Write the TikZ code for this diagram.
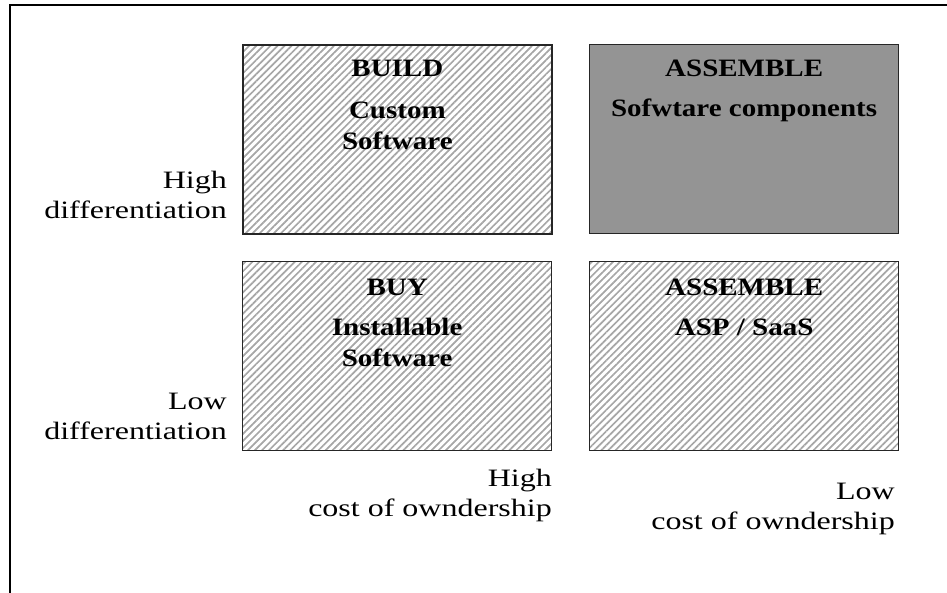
\documentclass[tikz,border=0pt]{standalone}
\usepackage{fontspec}
\setmainfont{Liberation Serif}
\newfontfamily\axisfont{Liberation Serif}[FakeStretch=1.28]
\newfontfamily\headfont{Liberation Serif}[FakeStretch=1.16]
\usetikzlibrary{patterns.meta}

\tikzset{
  quad/.style={draw=black!85, line width=1.3pt, anchor=north west, inner sep=0pt,
    minimum width=309pt, minimum height=189pt},
  hatched/.style={quad, pattern={Lines[angle=45, distance=5pt, line width=1.7pt]},
    pattern color=black!35},
  solid grey/.style={quad, fill=black!42},
  head/.style={font=\headfont\fontsize{25}{31}\selectfont\bfseries, align=center, anchor=north, inner sep=0pt},
  axis/.style={font=\axisfont\fontsize{25}{30}\selectfont, align=right, anchor=north east, inner sep=0pt}
}

\begin{document}
\begin{tikzpicture}[x=1pt, y=-1pt]
\useasboundingbox (0,0) rectangle (947,592);

% outer frame, cut at the page edge
\begin{scope}
	\clip (0,0) rectangle (947,592);
	\draw[line width=1.3pt] (10,5) rectangle (980,620);
\end{scope}

% the four quadrants
\node[hatched] (build) at (242,44) {};
\node[solid grey] (comp) at (589,44) {};
\node[hatched] (buy) at (242,261) {};
\node[hatched] (saas) at (589,261) {};

% headings in the quadrants
\node[head] (buildtxt) at ([yshift=-16pt]build.north) {BUILD\\[11pt]Custom\\Software};
\node[head] (comptxt) at ([yshift=-16pt]comp.north) {ASSEMBLE\\[9pt]Sofwtare components};
\node[head] (buytxt) at ([yshift=-18pt]buy.north) {BUY\\[9pt]Installable\\Software};
\node[head] (saastxt) at ([yshift=-18pt]saas.north) {ASSEMBLE\\[9pt]ASP / SaaS};

% axis texts
\node[axis] (hidiff) at (227,171) {High\\differentiation};
\node[axis] (lodiff) at (227,393) {Low\\differentiation};
\node[axis] (hicost) at (552,469) {High\\cost of owndership};
\node[axis] (locost) at (895,483) {Low\\cost of owndership};
\end{tikzpicture}
\end{document}
